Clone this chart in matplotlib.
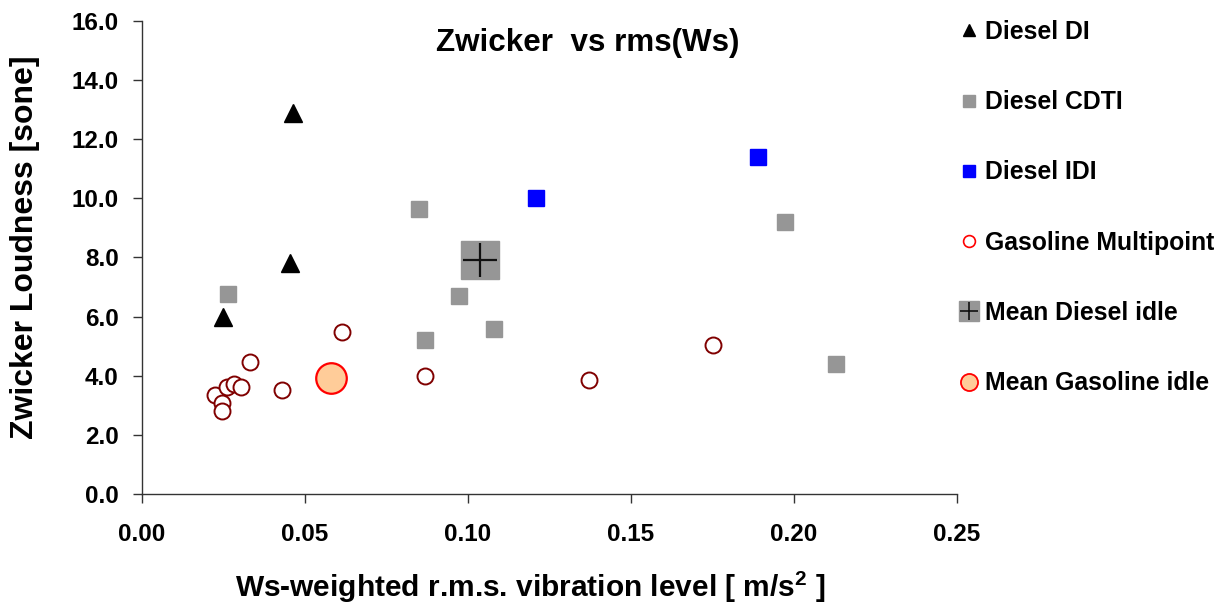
import matplotlib
matplotlib.use("Agg")
import matplotlib.pyplot as plt
from matplotlib.lines import Line2D

plt.rcParams["font.family"] = ["Liberation Sans", "DejaVu Sans"]
plt.rcParams["font.weight"] = "bold"
plt.rcParams["mathtext.fontset"] = "custom"
plt.rcParams["mathtext.bf"] = "Liberation Sans:bold"
plt.rcParams["mathtext.rm"] = "Liberation Sans:bold"

# Measured engine data: Ws-weighted rms vibration [m/s^2] vs Zwicker loudness [sone]
di_x = [0.0248, 0.0454, 0.0464]
di_y = [5.98, 7.80, 12.87]

cdti_x = [0.0265, 0.0851, 0.0868, 0.0973, 0.1082, 0.1973, 0.2131]
cdti_y = [6.75, 9.63, 5.22, 6.69, 5.59, 9.20, 4.40]

idi_x = [0.121, 0.189]
idi_y = [10.00, 11.38]

gas_x = [0.0225, 0.0245, 0.0245, 0.0262, 0.0283, 0.0306, 0.0333, 0.0431,
         0.0614, 0.0868, 0.1372, 0.1752]
gas_y = [3.36, 3.07, 2.81, 3.62, 3.73, 3.62, 4.45, 3.51,
         5.48, 4.00, 3.86, 5.04]

mean_diesel = (0.1039, 7.90)
mean_gas = (0.0580, 3.91)

x_ticks = [0.00, 0.05, 0.10, 0.15, 0.20, 0.25]
y_ticks = [0.0, 2.0, 4.0, 6.0, 8.0, 10.0, 12.0, 14.0, 16.0]

GRAY = "#969696"
DARKRED = "#800000"

W, H = 1232, 607
fig = plt.figure(figsize=(W / 100, H / 100), dpi=100)
ax_l, ax_r, ax_t, ax_b = 141.7, 956.7, 20.7, 494.0
ax = fig.add_axes([ax_l / W, 1 - ax_b / H, (ax_r - ax_l) / W, (ax_b - ax_t) / H])

ax.plot(di_x, di_y, ls="none", marker="^", ms=12.5, color="black", mec="black")
ax.plot(cdti_x, cdti_y, ls="none", marker="s", ms=11.5, color=GRAY, mec=GRAY)
ax.plot(idi_x, idi_y, ls="none", marker="s", ms=11.5, color="#0000FF", mec="#0000FF")
ax.plot(gas_x, gas_y, ls="none", marker="o", ms=11.5, mfc="white", mec=DARKRED, mew=1.4)
ax.plot([mean_diesel[0]], [mean_diesel[1]], ls="none", marker="s", ms=27, color=GRAY, mec=GRAY)
ax.plot([mean_diesel[0]], [mean_diesel[1]], ls="none", marker="+", ms=25, color="#111111", mew=1.6)
ax.plot([mean_gas[0]], [mean_gas[1]], ls="none", marker="o", ms=22, mfc="#FFCC99", mec="#FF0000", mew=1.6)

ax.set_xlim(0, 0.25)
ax.set_ylim(0, 16)
ax.set_xticks(x_ticks)
ax.set_xticklabels([f"{v:.2f}" for v in x_ticks])
ax.set_yticks(y_ticks)
ax.set_yticklabels([f"{v:.1f}" for v in y_ticks])
for s in ("top", "right"):
    ax.spines[s].set_visible(False)
for s in ("left", "bottom"):
    ax.spines[s].set_color("#333333")
    ax.spines[s].set_linewidth(1.0)
ax.tick_params(axis="both", direction="out", length=6.5, width=1, color="#333333")
ax.tick_params(axis="y", labelsize=17.5, pad=10)
ax.tick_params(axis="x", labelsize=17.5, pad=14.5)
for lab in ax.get_xticklabels() + ax.get_yticklabels():
    lab.set_fontweight("bold")

ax.set_xlabel(r"Ws-weighted r.m.s. vibration level [ m/s$^\mathbf{2}$ ]",
              fontsize=21.5, fontweight="bold")
ax.xaxis.set_label_coords((530 - ax_l) / (ax_r - ax_l), (ax_b - 569) / (ax_b - ax_t))
ax.set_ylabel("Zwicker Loudness [sone]", fontsize=23, fontweight="bold")
ax.yaxis.set_label_coords((40 - ax_l) / (ax_r - ax_l), (ax_b - 247) / (ax_b - ax_t))

fig.text(587.5 / W, 1 - 51 / H, "Zwicker  vs rms(Ws)", ha="center", va="baseline",
         fontsize=22.6, fontweight="bold")

# Legend proxies
h_di = Line2D([], [], ls="none", marker="^", ms=8.8, color="black")
h_cdti = Line2D([], [], ls="none", marker="s", ms=8.4, color=GRAY)
h_idi = Line2D([], [], ls="none", marker="s", ms=8.4, color="#0000FF")
h_gas = Line2D([], [], ls="none", marker="o", ms=8.5, mfc="white", mec="#FF0000", mew=1.2)
h_md_sq = Line2D([], [], ls="none", marker="s", ms=14.8, color=GRAY)
h_md_pl = Line2D([], [], ls="none", marker="+", ms=13.5, color="#111111", mew=1.2)
h_mg = Line2D([], [], ls="none", marker="o", ms=12.3, mfc="#FFCC99", mec="#FF0000", mew=1.3)

fs_leg = 17.8
fs_px = fs_leg * 100 / 72
leg = fig.legend([h_di, h_cdti, h_idi, h_gas, (h_md_sq, h_md_pl), h_mg],
                 ["Diesel DI", "Diesel CDTI", "Diesel IDI", "Gasoline Multipoint",
                  "Mean Diesel idle", "Mean Gasoline idle"],
                 loc="upper left",
                 bbox_to_anchor=((968.5 - 0.5 * fs_px) / W, 1 - 20 / H),
                 frameon=False, fontsize=fs_leg, handlelength=1.0,
                 handletextpad=(16.5 - 0.5 * fs_px) / fs_px,
                 labelspacing=1.87, borderaxespad=0, borderpad=0)
for t in leg.get_texts():
    t.set_fontweight("bold")

fig.savefig("out.png", dpi=100)
